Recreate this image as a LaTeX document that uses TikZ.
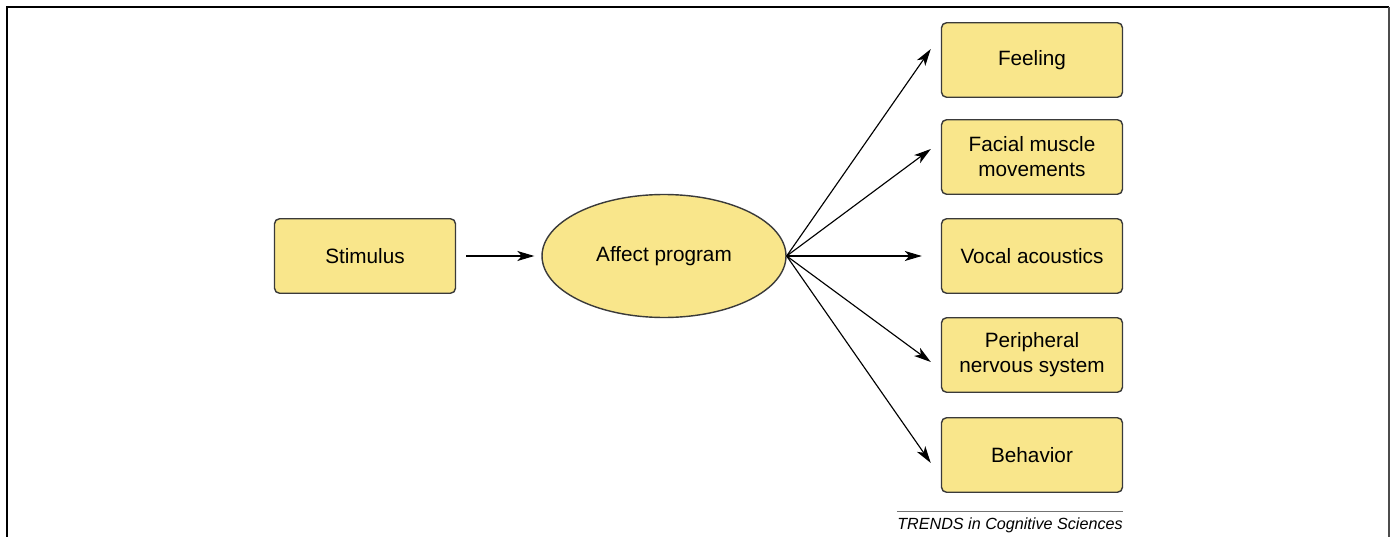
\documentclass[tikz,border=0pt]{standalone}
\usepackage{fontspec}
\setmainfont{Liberation Sans}
\usepackage{tikz}
\usetikzlibrary{shapes.geometric,arrows.meta}
\definecolor{boxfill}{HTML}{F9E68B}
\definecolor{boxline}{HTML}{3A3A3A}

\begin{document}
\begin{tikzpicture}[
x=0.02cm,y=-0.02cm,
mybox/.style={
  draw=boxline,
  fill=boxfill,
  line width=0.8pt,
  rounded corners=0.1cm,
  minimum width=3.62cm,
  minimum height=1.49cm,
  align=center,
  font=\fontsize{11.8}{14.2}\selectfont
  },
myellipse/.style={
  ellipse,
  draw=boxline,
  fill=boxfill,
  line width=0.8pt,
  minimum width=4.88cm,
  minimum height=2.46cm,
  inner sep=0pt,
  font=\fontsize{11.8}{14.2}\selectfont
  },
myarrow/.style={
  -{Stealth[length=0.34cm,width=0.2cm,inset=0.09cm]},
  line width=0.65pt
  }
]
\useasboundingbox (0,0) rectangle (1390,537);
\draw[line width=1.1pt] (7,537) -- (7,7) -- (1389,7);
\draw[line width=0.8pt,black!70] (1389,7) -- (1389,537);
\node[mybox] (stim) at (365,256) {Stimulus};
\node[myellipse] (ap) at (664,256) {Affect program};
\draw[myarrow,shorten <=0.2cm,shorten >=0.14cm] (stim) -- (ap);
\foreach \Name/\Y/\Dx/\Dy/\Label in {
  feel/60/-10/-11/Feeling,
  face/157/-10/-8/{Facial muscle\\movements},
  voc/256/-19/0/Vocal acoustics,
  pns/355/-10/7/{Peripheral\\nervous system},
  beh/455/-10/8/Behavior}
{
  \node[mybox] (\Name) at (1032,\Y) {\Label};
  \coordinate (\Name tip) at ([shift={(\Dx,\Dy)}]\Name.west);
  \draw[myarrow] (ap.east) -- (\Name tip);
}
\node[anchor=base,inner sep=0pt,font=\fontsize{9.2}{11}\selectfont\itshape] (src) at (1010,529) {TRENDS in Cognitive Sciences};
\draw[black!55,line width=0.6pt] (src.north west) ++(0,-5) coordinate (srcl) -- (srcl -| src.north east);
\end{tikzpicture}
\end{document}
